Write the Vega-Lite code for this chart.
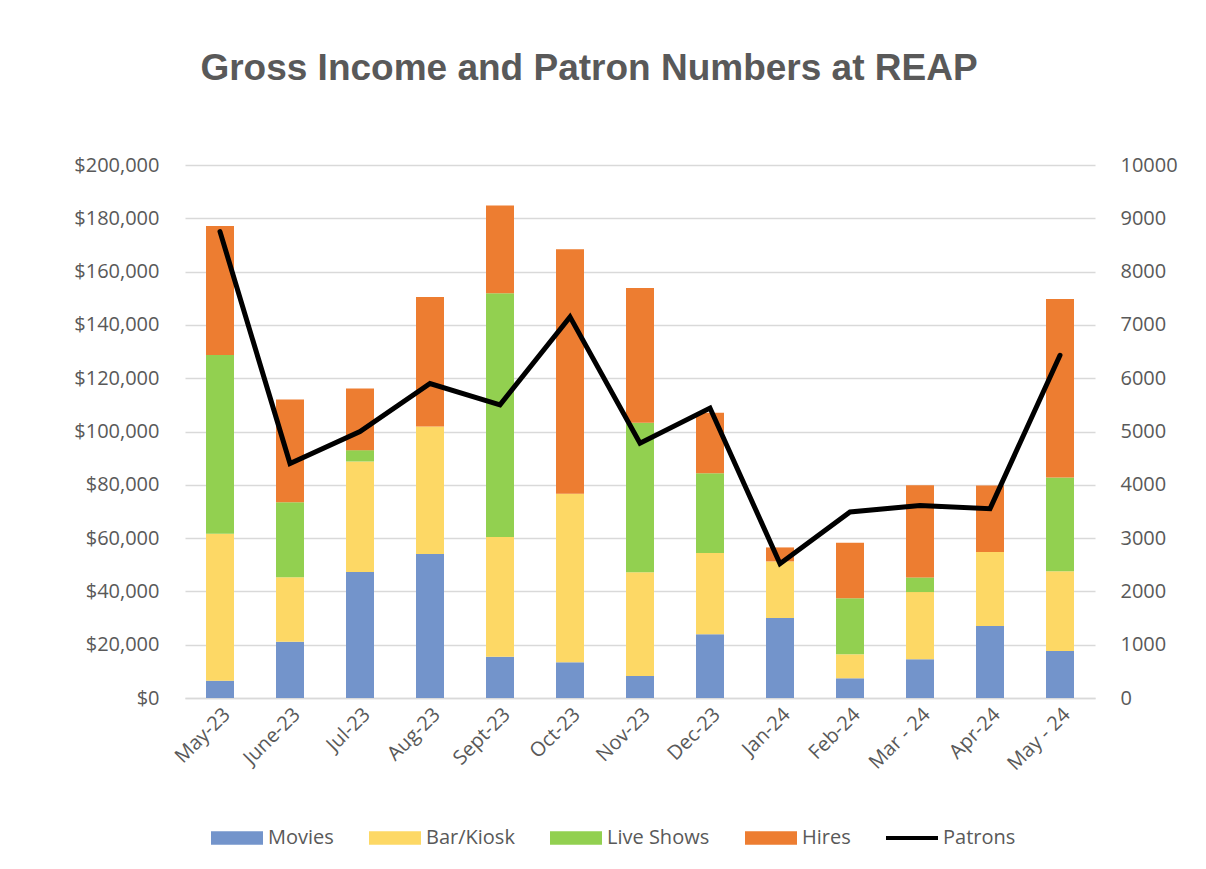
{
  "$schema": "https://vega.github.io/schema/vega-lite/v6.json",
  "width": 910,
  "height": 533,
  "autosize": {"type": "none"},
  "padding": {"left": 185, "top": 165, "right": 111, "bottom": 171},
  "background": "white",
  "title": {
    "text": "Gross Income and Patron Numbers at REAP",
    "font": "Liberation Sans",
    "fontSize": 37,
    "fontWeight": "bold",
    "color": "#595959",
    "anchor": "middle",
    "dx": -51,
    "offset": 38,
    "baseline": "alphabetic"
  },
  "config": {
    "view": {"stroke": null},
    "axis": {"labelFont": "Open Sans", "labelFontSize": 20, "labelColor": "#595959"}
  },
  "data": {
    "values": [
      {"month": "May-23", "Movies": 6500, "Bar/Kiosk": 55100, "Live Shows": 67100, "Hires": 48400, "Patrons": 8750},
      {"month": "June-23", "Movies": 21100, "Bar/Kiosk": 24250, "Live Shows": 28100, "Hires": 38600, "Patrons": 4400},
      {"month": "Jul-23", "Movies": 47250, "Bar/Kiosk": 41500, "Live Shows": 4250, "Hires": 23100, "Patrons": 5000},
      {"month": "Aug-23", "Movies": 54000, "Bar/Kiosk": 47900, "Live Shows": 0, "Hires": 48600, "Patrons": 5900},
      {"month": "Sept-23", "Movies": 15500, "Bar/Kiosk": 44900, "Live Shows": 91500, "Hires": 32900, "Patrons": 5500},
      {"month": "Oct-23", "Movies": 13400, "Bar/Kiosk": 63250, "Live Shows": 0, "Hires": 91750, "Patrons": 7150},
      {"month": "Nov-23", "Movies": 8250, "Bar/Kiosk": 38900, "Live Shows": 56100, "Hires": 50600, "Patrons": 4780},
      {"month": "Dec-23", "Movies": 23900, "Bar/Kiosk": 30500, "Live Shows": 29900, "Hires": 22700, "Patrons": 5440},
      {"month": "Jan-24", "Movies": 30000, "Bar/Kiosk": 21250, "Live Shows": 0, "Hires": 5250, "Patrons": 2520},
      {"month": "Feb-24", "Movies": 7400, "Bar/Kiosk": 9000, "Live Shows": 21000, "Hires": 20900, "Patrons": 3490},
      {"month": "Mar - 24", "Movies": 14500, "Bar/Kiosk": 25250, "Live Shows": 5500, "Hires": 34600, "Patrons": 3610},
      {"month": "Apr-24", "Movies": 27000, "Bar/Kiosk": 27750, "Live Shows": 0, "Hires": 25000, "Patrons": 3550},
      {"month": "May - 24", "Movies": 17600, "Bar/Kiosk": 30000, "Live Shows": 35100, "Hires": 67000, "Patrons": 6430}
    ]
  },
  "layer": [
    {
      "transform": [
        {"fold": ["Movies", "Bar/Kiosk", "Live Shows", "Hires"], "as": ["cat", "income"]},
        {"window": [{"op": "row_number", "as": "ord"}], "groupby": ["month"]}
      ],
      "mark": {"type": "bar"},
      "encoding": {
        "x": {
          "field": "month",
          "type": "nominal",
          "sort": null,
          "scale": {"paddingInner": 0.6, "paddingOuter": 0.3},
          "axis": {"title": null, "labelAngle": -45, "domainColor": "#d9d9d9", "domainWidth": 1.5, "ticks": false, "labelPadding": 6}
        },
        "y": {
          "field": "income",
          "type": "quantitative",
          "stack": "zero",
          "scale": {"domain": [0, 200000], "nice": false},
          "axis": {
            "title": null,
            "values": [0, 20000, 40000, 60000, 80000, 100000, 120000, 140000, 160000, 180000, 200000],
            "format": "$,.0f",
            "domain": false,
            "ticks": false,
            "gridColor": "#d9d9d9",
            "gridWidth": 1.5,
            "labelPadding": 26
          }
        },
        "order": {"field": "ord", "type": "quantitative"},
        "color": {
          "field": "cat",
          "type": "nominal",
          "scale": {
            "domain": ["Movies", "Bar/Kiosk", "Live Shows", "Hires", "Patrons"],
            "range": ["#7394CB", "#FDD865", "#92D050", "#ED7D31", "#000000"]
          },
          "legend": {
            "orient": "none",
            "legendX": 26,
            "legendY": 647,
            "direction": "horizontal",
            "title": null,
            "symbolType": "M-1,-0.26H1V0.26H-1Z",
            "symbolSize": 2704,
            "symbolStrokeWidth": 0,
            "labelFont": "Open Sans",
            "labelFontSize": 20,
            "labelColor": "#595959",
            "labelOffset": 5,
            "columnPadding": 35,
            "encode": {
              "symbols": {
                "update": {
                  "shape": {"signal": "datum.value === 'Patrons' ? 'M-1,-0.08H1V0.08H-1Z' : 'M-1,-0.26H1V0.26H-1Z'"}
                }
              }
            }
          }
        }
      }
    },
    {
      "mark": {"type": "line", "color": "black", "strokeWidth": 5, "strokeCap": "round"},
      "encoding": {
        "x": {"field": "month", "type": "nominal", "sort": null},
        "y": {
          "field": "Patrons",
          "type": "quantitative",
          "scale": {"domain": [0, 10000], "nice": false},
          "axis": {
            "orient": "right",
            "title": null,
            "values": [0, 1000, 2000, 3000, 4000, 5000, 6000, 7000, 8000, 9000, 10000],
            "format": "d",
            "grid": false,
            "domain": false,
            "ticks": false,
            "labelPadding": 25
          }
        }
      }
    }
  ],
  "resolve": {"scale": {"y": "independent"}}
}
